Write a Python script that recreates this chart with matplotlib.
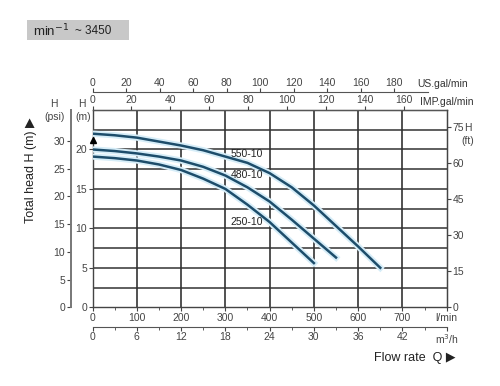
import numpy as np
import matplotlib
matplotlib.use('Agg')
import matplotlib.pyplot as plt
import matplotlib.patheffects as pe
from matplotlib.patches import Rectangle

plt.rcParams['font.family'] = ['Liberation Sans', 'DejaVu Sans']

# pump curves, flow in l/min, head in m
q_550 = [0, 50, 100, 150, 200, 250, 300, 350, 400, 450, 500, 550, 600, 650]
h_550 = [22.0, 21.8, 21.5, 21.0, 20.5, 19.9, 19.1, 18.3, 17.0, 15.2, 12.9, 10.3, 7.7, 5.0]
q_480 = [0, 50, 100, 150, 200, 250, 300, 350, 400, 450, 500, 550]
h_480 = [20.0, 19.8, 19.5, 19.1, 18.6, 17.8, 16.7, 15.2, 13.4, 11.1, 8.7, 6.3]
q_250 = [0, 50, 100, 150, 200, 250, 300, 350, 400, 450, 500]
h_250 = [19.1, 18.9, 18.6, 18.1, 17.4, 16.3, 15.0, 13.0, 10.8, 8.2, 5.6]
names = ['550-10', '480-10', '250-10']

lmin_ticks = [0, 100, 200, 300, 400, 500, 600, 700, 800]
lmin_labels = ['0', '100', '200', '300', '400', '500', '600', '700', 'l/min']
m3h_ticks = [0, 6, 12, 18, 24, 30, 36, 42, 48]
m3h_labels = ['0', '6', '12', '18', '24', '30', '36', '42', 'm$^3$/h']
us_ticks = [0, 20, 40, 60, 80, 100, 120, 140, 160, 180]
imp_ticks = [0, 20, 40, 60, 80, 100, 120, 140, 160]
m_ticks = [0, 5, 10, 15, 20]
psi_ticks = [0, 5, 10, 15, 20, 25, 30]
ft_ticks = [0, 15, 30, 45, 60, 75]

QMAX = 800
HMAX = 25
US_GAL = 3.785
IMP_GAL = 4.4   # scale as drawn on the original sheet
PSI = 0.70307
FT = 0.3048

tc = '#444444'
fs = 7.5

fig = plt.figure(figsize=(5, 3.86), dpi=100)
ax = fig.add_axes([0.185, 0.204, 0.7084, 0.511])
ax.set_xlim(0, QMAX)
ax.set_ylim(0, HMAX)

# grid
for x in range(100, QMAX, 100):
    ax.axvline(x, color='#222222', lw=1.1, zorder=1)
for y in np.arange(2.5, HMAX, 2.5):
    ax.axhline(y, color='#333333', lw=1.1, zorder=1)

for sp in ax.spines.values():
    sp.set_color('#444444')
    sp.set_linewidth(1.0)

curve_col = '#1d4d6b'
glow = [pe.Stroke(linewidth=4.5, foreground='#d6edf8'), pe.Normal()]
for q, h in [(q_550, h_550), (q_480, h_480), (q_250, h_250)]:
    ax.plot(q, h, color=curve_col, lw=1.8, zorder=3, path_effects=glow)

ax.text(349, 19.4, names[0], fontsize=fs, color='#222222', zorder=4, ha='center', va='center')
ax.text(349, 16.8, names[1], fontsize=fs, color='#222222', zorder=4, ha='center', va='center')
ax.text(349, 10.8, names[2], fontsize=fs, color='#222222', zorder=4, ha='center', va='center')

ax.plot([0], [21.2], marker='^', color='black', ms=5, clip_on=False, zorder=5)

# bottom l/min axis
ax.set_xticks(lmin_ticks)
ax.set_xticklabels(lmin_labels)
ax.set_xticks(np.arange(50, QMAX, 100), minor=True)
ax.tick_params(axis='x', which='both', direction='out', length=3, color=tc,
               labelsize=fs, labelcolor=tc, pad=1)
ax.tick_params(axis='x', which='minor', length=2)

# left m axis
ax.set_yticks(m_ticks)
ax.tick_params(axis='y', direction='out', length=3, color=tc, labelsize=fs,
               labelcolor=tc, pad=1)

# m3/h axis
ax_m3 = ax.twiny()
ax_m3.set_xlim(0, QMAX * 0.06)
ax_m3.xaxis.set_ticks_position('bottom')
ax_m3.xaxis.set_label_position('bottom')
ax_m3.spines['bottom'].set_position(('outward', 14))
for s in ['top', 'left', 'right']:
    ax_m3.spines[s].set_visible(False)
ax_m3.spines['bottom'].set_color('#555555')
ax_m3.set_xticks(m3h_ticks)
ax_m3.set_xticklabels(m3h_labels)
ax_m3.set_xticks(np.arange(3, 48, 6), minor=True)
ax_m3.tick_params(axis='x', which='both', direction='out', length=3, color=tc,
                  labelsize=fs, labelcolor=tc, pad=1)
ax_m3.tick_params(axis='x', which='minor', length=2)

# IMP gal axis (top spine)
ax_imp = ax.twiny()
ax_imp.set_xlim(0, QMAX / IMP_GAL)
ax_imp.set_xticks(imp_ticks)
ax_imp.tick_params(axis='x', direction='out', length=3, color=tc, labelsize=fs,
                   labelcolor=tc, pad=0.5)
for s in ['bottom', 'left', 'right']:
    ax_imp.spines[s].set_visible(False)
ax_imp.spines['top'].set_color('#555555')

# US gal axis
ax_us = ax.twiny()
ax_us.set_xlim(0, QMAX / US_GAL)
ax_us.spines['top'].set_position(('outward', 12.7))
ax_us.spines['top'].set_bounds(0, 200)
ax_us.spines['top'].set_color('#555555')
for s in ['bottom', 'left', 'right']:
    ax_us.spines[s].set_visible(False)
ax_us.set_xticks(us_ticks)
ax_us.tick_params(axis='x', direction='out', length=3, color=tc, labelsize=fs,
                  labelcolor=tc, pad=0.5)

# psi axis
ax_psi = ax.twinx()
ax_psi.set_ylim(0, HMAX / PSI)
ax_psi.yaxis.set_ticks_position('left')
ax_psi.spines['left'].set_position(('outward', 15.7))
ax_psi.spines['left'].set_color('#777777')
ax_psi.spines['left'].set_linewidth(1.4)
for s in ['top', 'bottom', 'right']:
    ax_psi.spines[s].set_visible(False)
ax_psi.set_yticks(psi_ticks)
ax_psi.tick_params(axis='y', direction='out', length=3, color=tc, labelsize=fs,
                   labelcolor=tc, pad=1)

# ft axis
ax_ft = ax.twinx()
ax_ft.set_ylim(0, HMAX / FT)
for s in ['top', 'bottom', 'left']:
    ax_ft.spines[s].set_visible(False)
ax_ft.spines['right'].set_color('#444444')
ax_ft.set_yticks(ft_ticks)
ax_ft.tick_params(axis='y', direction='out', length=3, color=tc, labelsize=fs,
                  labelcolor=tc, pad=1)

# unit labels
fig.text(417 / 500, 1 - 84 / 386, 'US.gal/min', fontsize=fs, color='#333333', va='center')
fig.text(420 / 500, 1 - 102 / 386, 'IMP.gal/min', fontsize=fs, color='#333333', va='center')
fig.text(54 / 500, 1 - 104 / 386, 'H', fontsize=fs, color=tc, ha='center', va='center')
fig.text(55 / 500, 1 - 117 / 386, '(psi)', fontsize=fs, color=tc, ha='center', va='center')
fig.text(82 / 500, 1 - 104 / 386, 'H', fontsize=fs, color=tc, ha='center', va='center')
fig.text(83 / 500, 1 - 117 / 386, '(m)', fontsize=fs, color=tc, ha='center', va='center')
fig.text(468 / 500, 1 - 128 / 386, 'H', fontsize=fs, color=tc, ha='center', va='center')
fig.text(468 / 500, 1 - 141 / 386, '(ft)', fontsize=fs, color=tc, ha='center', va='center')

fig.text(31 / 500, 1 - 170 / 386, 'Total head H (m) \u25b6', fontsize=9, color='#222222',
         rotation=90, ha='center', va='center')
fig.text(455 / 500, 1 - 358 / 386, 'Flow rate  Q \u25b6', fontsize=9, color='#222222',
         ha='right', va='center')

# speed box
fig.add_artist(Rectangle((27 / 500, 1 - 40 / 386), 102 / 500, 20 / 386,
                         transform=fig.transFigure, facecolor='#c8c8c8', edgecolor='none'))
fig.text(33 / 500, 1 - 30.5 / 386, 'min$^{-1}$', fontsize=9.5, color='#222222', va='center')
fig.text(75 / 500, 1 - 31 / 386, '~ 3450', fontsize=8.5, color='#222222', va='center')

fig.savefig('out.png', dpi=100)
